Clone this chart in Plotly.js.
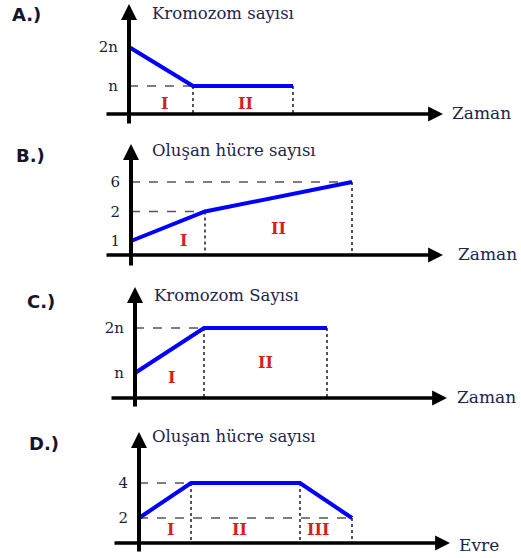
<!DOCTYPE html>
<html>
<head>
<meta charset="utf-8">
<script src="https://cdn.plot.ly/plotly-3.0.1.min.js"></script>
<style>html,body{margin:0;padding:0;background:#fff}</style>
</head>
<body>
<div id="chart" style="width:521px;height:558px"></div>
<script>
var W = 521, H = 558

// A.) kromozom sayisi - zaman
var aZaman = [0, 6.4, 16.4]
var aKromozom = ['2n', 'n', 'n']
var aSeviye = ['n', '2n']

// B.) olusan hucre sayisi - zaman
var bZaman = [0, 7.4, 22.1]
var bHucre = ['1', '2', '6']
var bSeviye = ['1', '2', '6']

// C.) kromozom sayisi - zaman
var cZaman = [0, 6.9, 19.2]
var cKromozom = ['n', '2n', '2n']
var cSeviye = ['n', '2n']

// D.) olusan hucre sayisi - evre
var dEvre = [0, 5.2, 16.1, 21.3]
var dHucre = [2, 4, 4, 2]
var dSeviye = [2, 4]

var harfler = ['A.)', 'B.)', 'C.)', 'D.)']
var basliklar = ['Kromozom sayısı', 'Oluşan hücre sayısı', 'Kromozom Sayısı', 'Oluşan hücre sayısı']
var xEtiketler = ['Zaman', 'Zaman', 'Zaman', 'Evre']
var evreler = ['I', 'II', 'III']

// pixel geometry of each panel
var panels = [
  {x: aZaman, y: aKromozom, cats: aSeviye, cat: true, x0: 129, top: 4, bot: 125, base: 114, xs: 105, xe: 443,
   cal: [86, 47], dom: [0, 132], harf: [10, 15], baslik: [150, 13], etiket: [450, 113], roma: [[164, 104], [245, 103]]},
  {x: bZaman, y: bHucre, cats: bSeviye, cat: true, x0: 131, top: 144, bot: 267, base: 255, xs: 105, xe: 443,
   cal: [241, 182], dom: [138, 272], harf: [14, 156], baslik: [150, 150], etiket: [456, 254], roma: [[183, 240], [278, 228]]},
  {x: cZaman, y: cKromozom, cats: cSeviye, cat: true, x0: 135, top: 287, bot: 408, base: 398, xs: 110, xe: 447,
   cal: [373, 328], dom: [278, 414], harf: [25, 301], baslik: [152, 295], etiket: [455, 397], roma: [[171, 377], [265, 362]]},
  {x: dEvre, y: dHucre, cats: dSeviye, cat: false, x0: 139, top: 432, bot: 553, base: 543, xs: 113, xe: 450,
   cal: [518, 483], dom: [418, 558], harf: [27, 443], baslik: [150, 436], etiket: [457, 545], roma: [[170, 529], [239, 529], [318, 529]]}
]

var serif = 'DejaVu Serif, Liberation Serif, serif'
var data = []
var shapes = []
var annotations = []
var layout = {
  width: W, height: H,
  margin: {l: 0, r: 0, t: 0, b: 0},
  showlegend: false,
  paper_bgcolor: '#fff',
  plot_bgcolor: 'rgba(0,0,0,0)'
}

function px(x) { return x / W }
function py(y) { return 1 - y / H }

panels.forEach(function (p, i) {
  var s = i == 0 ? '' : String(i + 1)
  var v1 = p.cat ? 0 : p.cats[0]
  var v2 = p.cat ? p.cats.length - 1 : p.cats[p.cats.length - 1]
  var k = (v2 - v1) / (p.cal[1] - p.cal[0])
  function val(pix) { return v1 + (pix - p.cal[0]) * k }
  function lv(y) { return p.cat ? p.cats.indexOf(y) : y }
  var baseVal = val(p.base)

  data.push({
    x: p.x, y: p.y, xaxis: 'x' + s, yaxis: 'y' + s,
    type: 'scatter', mode: 'lines',
    line: {color: '#0000ff', width: 4},
    hoverinfo: 'skip'
  })

  layout['xaxis' + s] = {
    domain: [0, 1], range: [-p.x0 / 10, (W - p.x0) / 10],
    visible: false, anchor: 'y' + s, fixedrange: true
  }
  var ya = {
    domain: [py(p.dom[1]), py(p.dom[0])],
    range: [val(p.dom[1]), val(p.dom[0])],
    anchor: 'free', position: px(p.x0),
    showgrid: false, zeroline: false, showline: false, ticks: '',
    ticklabelstandoff: 11,
    tickfont: {family: serif, size: 15, color: '#1b1b3a'},
    fixedrange: true
  }
  if (p.cat) {
    ya.type = 'category'
    ya.categoryorder = 'array'
    ya.categoryarray = p.cats
  } else {
    ya.tickvals = p.cats
  }
  layout['yaxis' + s] = ya

  // dotted drop lines
  for (var j = 1; j < p.x.length; j++) {
    shapes.push({
      type: 'line', xref: 'x' + s, yref: 'y' + s, layer: 'below',
      x0: p.x[j], x1: p.x[j], y0: lv(p.y[j]), y1: baseVal,
      line: {color: '#555', width: 2, dash: 'dot'}
    })
  }
  // dashed level lines
  p.cats.forEach(function (c) {
    for (var j = 1; j < p.x.length; j++) {
      if (p.y[j] == c) {
        shapes.push({
          type: 'line', xref: 'x' + s, yref: 'y' + s, layer: 'below',
          x0: 0, x1: p.x[j], y0: lv(c), y1: lv(c),
          line: {color: '#555', width: 1.5, dash: 'dash'}
        })
        break
      }
    }
  })

  // axes with arrow heads
  annotations.push({
    xref: 'paper', yref: 'paper', x: px(p.xe), y: py(p.base),
    ax: -(p.xe - p.xs), ay: 0, text: '', showarrow: true,
    arrowhead: 2, arrowsize: 0.85, arrowwidth: 3.5, arrowcolor: '#000'
  })
  annotations.push({
    xref: 'paper', yref: 'paper', x: px(p.x0), y: py(p.top),
    ax: 0, ay: p.bot - p.top, text: '', showarrow: true,
    arrowhead: 2, arrowsize: 0.8, arrowwidth: 4, arrowcolor: '#000'
  })

  annotations.push({
    xref: 'paper', yref: 'paper', x: px(p.harf[0]), y: py(p.harf[1]),
    xanchor: 'left', yanchor: 'middle', showarrow: false, text: harfler[i],
    font: {family: 'DejaVu Sans, sans-serif', size: 18, color: '#15152a', weight: 'bold'}
  })
  annotations.push({
    xref: 'paper', yref: 'paper', x: px(p.baslik[0]), y: py(p.baslik[1]),
    xanchor: 'left', yanchor: 'middle', showarrow: false, text: basliklar[i],
    font: {family: serif, size: 16.5, color: '#1c2450'}
  })
  annotations.push({
    xref: 'paper', yref: 'paper', x: px(p.etiket[0]), y: py(p.etiket[1]),
    xanchor: 'left', yanchor: 'middle', showarrow: false, text: xEtiketler[i],
    font: {family: serif, size: 17, color: '#1c2450'}
  })
  p.roma.forEach(function (r, j) {
    annotations.push({
      xref: 'paper', yref: 'paper', x: px(r[0]), y: py(r[1]),
      xanchor: 'center', yanchor: 'middle', showarrow: false, text: evreler[j],
      font: {family: serif, size: 16, color: '#d42020', weight: 'bold'}
    })
  })
})

layout.shapes = shapes
layout.annotations = annotations

Plotly.newPlot('chart', data, layout, {displayModeBar: false})
</script>
</body>
</html>
